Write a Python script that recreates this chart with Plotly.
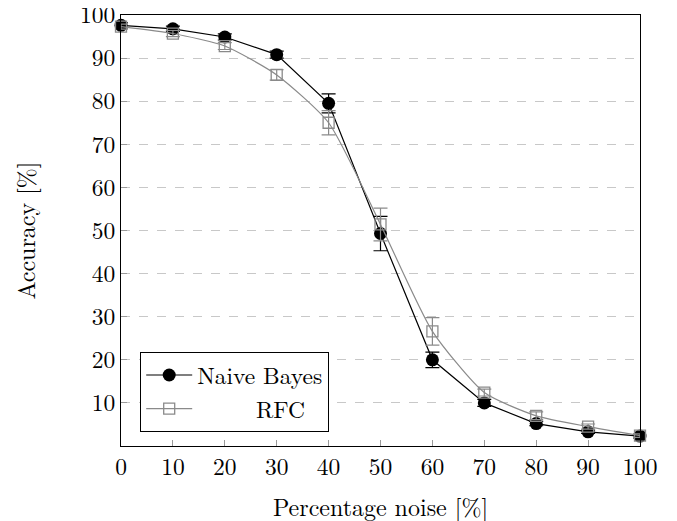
import plotly.graph_objects as go

noise = [0, 10, 20, 30, 40, 50, 60, 70, 80, 90, 100]
nb_acc = [97.6, 96.8, 94.9, 90.8, 79.5, 49.3, 20.0, 10.0, 5.2, 3.3, 2.3]
nb_err = [0.6, 0.6, 0.7, 0.8, 2.2, 4.0, 1.8, 0.8, 0.5, 0.4, 0.4]
rfc_acc = [97.3, 95.7, 92.8, 86.1, 75.0, 51.4, 26.6, 12.4, 7.0, 4.5, 2.4]
rfc_err = [0.6, 0.7, 0.8, 1.2, 2.8, 3.8, 3.2, 0.8, 0.9, 0.6, 0.4]
x_ticks = [0, 10, 20, 30, 40, 50, 60, 70, 80, 90, 100]
y_ticks = [10, 20, 30, 40, 50, 60, 70, 80, 90, 100]

FONT = "Latin Modern Roman, Liberation Serif, serif"
GRAY = "#8a8a8a"

fig = go.Figure()
fig.add_trace(go.Scatter(
    x=noise, y=nb_acc, name="Naive Bayes", mode="lines+markers",
    line=dict(color="black", width=1.2),
    marker=dict(symbol="circle", size=13, color="black"),
    error_y=dict(type="data", array=nb_err, color="black", thickness=1.2, width=7),
    cliponaxis=False,
))
fig.add_trace(go.Scatter(
    x=noise, y=rfc_acc, name="\u00a0\u00a0\u00a0\u00a0\u00a0RFC", mode="lines+markers",
    line=dict(color=GRAY, width=1.2, shape="spline", smoothing=0.6),
    marker=dict(symbol="square-open", size=11, color=GRAY, line=dict(width=1.3)),
    error_y=dict(type="data", array=rfc_err, color=GRAY, thickness=1.2, width=7),
    cliponaxis=False,
))

fig.update_layout(
    width=677, height=521,
    margin=dict(l=113, r=45, t=7, b=83, autoexpand=False),
    plot_bgcolor="white", paper_bgcolor="white",
    font=dict(family=FONT, size=23.5, color="black"),
    showlegend=True,
    legend=dict(
        x=0.037, y=0.032, xanchor="left", yanchor="bottom",
        bordercolor="black", borderwidth=1, bgcolor="white",
        font=dict(family=FONT, size=23.5), tracegroupgap=0,
        itemwidth=46,
    ),
    xaxis=dict(
        range=[0, 100], tickvals=x_ticks, ticktext=[str(v) for v in x_ticks],
        showgrid=False, zeroline=False, automargin=False,
        showline=True, linecolor="black", linewidth=1, mirror=True,
        ticks="inside", ticklen=6, tickcolor="#999999",
        ticklabeloverflow="allow",
        title=dict(text="Percentage noise [%]", standoff=17, font=dict(size=24)),
    ),
    yaxis=dict(
        range=[0, 100], tickvals=y_ticks, ticktext=[str(v) for v in y_ticks],
        showgrid=True, gridcolor="#c8c8c8", griddash="dash", gridwidth=1,
        zeroline=False, automargin=False,
        showline=True, linecolor="black", linewidth=1, mirror=True,
        ticks="inside", ticklen=6, tickcolor="#999999",
        ticklabeloverflow="allow",
        title=dict(text="Accuracy [%]", standoff=44, font=dict(size=24)),
    ),
)

fig.write_html("out.html")
